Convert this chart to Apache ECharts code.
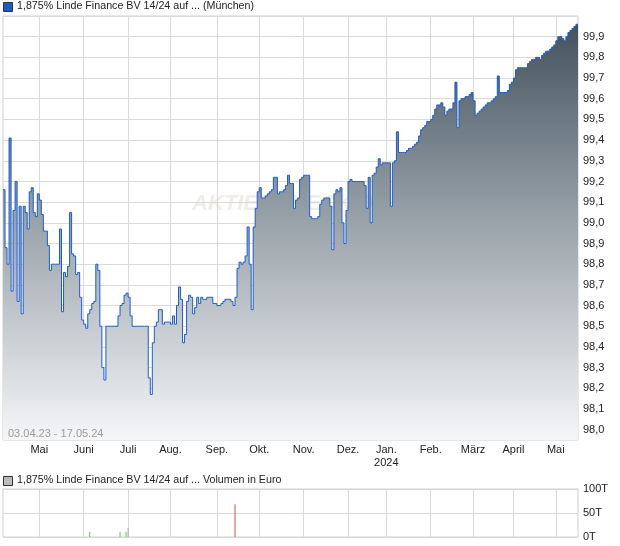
<!DOCTYPE html>
<html><head><meta charset="utf-8">
<script src="https://cdn.jsdelivr.net/npm/echarts@6/dist/echarts.min.js"></script>
<style>html,body{margin:0;padding:0;background:#fff}#c{width:620px;height:546px}</style>
</head><body><div id="c"></div>
<script>
// ---- DATA ----
const monthKeys = ['2023-04','2023-05','2023-06','2023-07','2023-08','2023-09','2023-10','2023-11','2023-12','2024-01','2024-02','2024-03','2024-04','2024-05'];
const monthLabels = ['', 'Mai', 'Juni', 'Juli', 'Aug.', 'Sep.', 'Okt.', 'Nov.', 'Dez.', 'Jan.\n2024', 'Feb.', 'März', 'April', 'Mai'];

const apr23 = [99.16, 98.88, 98.80, 99.41, 98.67, 99.06, 99.20, 98.62, 99.08, 98.56, 99.08, 99.05, 98.97, 99.15, 99.17, 99.05, 99.03, 99.14];
const may23 = [99.11, 99.04, 98.96, 98.96, 98.89, 98.77, 98.80, 98.80, 98.80, 98.80, 98.97, 98.57, 98.76, 98.74, 98.79, 99.05, 98.85, 98.84, 98.75, 98.76, 98.64, 98.53];
const jun23 = [98.51, 98.49, 98.56, 98.58, 98.61, 98.62, 98.80, 98.77, 98.50, 98.30, 98.24, 98.50, 98.50, 98.50, 98.50, 98.50, 98.50, 98.55, 98.60, 98.61, 98.65, 98.66];
const jul23 = [98.64, 98.55, 98.50, 98.50, 98.50, 98.50, 98.50, 98.50, 98.50, 98.50, 98.25, 98.17, 98.42, 98.50, 98.52, 98.58, 98.58, 98.51, 98.52, 98.52, 98.52];
const aug23 = [98.51, 98.55, 98.51, 98.60, 98.69, 98.63, 98.42, 98.46, 98.62, 98.65, 98.64, 98.56, 98.59, 98.64, 98.61, 98.64, 98.63, 98.63, 98.64, 98.64, 98.64, 98.61, 98.61];
const sep23 = [98.60, 98.60, 98.61, 98.62, 98.63, 98.63, 98.63, 98.62, 98.60, 98.64, 98.78, 98.81, 98.80, 98.81, 98.84, 98.98, 98.80, 98.58, 98.98, 99.07, 99.15];
const oct23 = [99.17, 99.12, 99.12, 99.13, 99.14, 99.15, 99.16, 99.22, 99.22, 99.14, 99.15, 99.15, 99.16, 99.18, 99.23, 99.19, 99.19, 99.07, 99.11, 99.12, 99.21, 99.22];
const nov23 = [99.23, 99.23, 99.23, 99.03, 99.02, 99.02, 99.02, 99.03, 99.09, 99.11, 99.12, 99.12, 99.12, 99.08, 98.87, 99.14, 99.16, 99.15, 99.17, 99.00, 98.90, 99.06];
const dec23 = [99.20, 99.21, 99.20, 99.20, 99.20, 99.20, 99.20, 99.20, 99.18, 99.07, 99.22, 99.00, 99.23, 99.24, 99.27, 99.31, 99.28, 99.29, 99.29];
const jan24 = [99.29, 99.29, 99.08, 99.29, 99.30, 99.44, 99.34, 99.34, 99.34, 99.34, 99.35, 99.36, 99.36, 99.37, 99.38, 99.39, 99.42, 99.45, 99.46, 99.47, 99.49, 99.49];
const feb24 = [99.50, 99.52, 99.55, 99.57, 99.57, 99.58, 99.56, 99.52, 99.54, 99.55, 99.55, 99.58, 99.68, 99.46, 99.59, 99.60, 99.60, 99.61, 99.61, 99.62, 99.63];
const mar24 = [99.59, 99.52, 99.53, 99.54, 99.55, 99.56, 99.57, 99.58, 99.58, 99.59, 99.60, 99.61, 99.71, 99.63, 99.63, 99.63, 99.63, 99.64, 99.67, 99.68];
const apr24 = [99.70, 99.74, 99.75, 99.75, 99.75, 99.75, 99.75, 99.77, 99.78, 99.79, 99.79, 99.80, 99.80, 99.79, 99.81, 99.82, 99.83, 99.83, 99.84, 99.85, 99.86];
const may24 = [99.88, 99.90, 99.90, 99.89, 99.88, 99.90, 99.92, 99.93, 99.94, 99.95, 99.96, 99.96];

// volume (Euro) on trading-day index
const volIndex = [43, 58, 61, 62, 115];
const volValues = [10500, 11000, 11000, 19000, 68000];
const volDirection = ['up', 'up', 'up', 'flat', 'down'];

const priceTitle = '1,875% Linde Finance BV 14/24 auf ... (München)';
const volumeTitle = '1,875% Linde Finance BV 14/24 auf ... Volumen in Euro';
const rangeText = '03.04.23 - 17.05.24';
const watermark = 'AKTIENCHECK.DE';

// ---- BUILD ----
const monthValues = [apr23, may23, jun23, jul23, aug23, sep23, oct23, nov23, dec23, jan24, feb24, mar24, apr24, may24];
const categories = [];
const prices = [];
monthValues.forEach((arr, m) => arr.forEach((v, j) => { categories.push(monthKeys[m] + '|' + j); prices.push(v); }));
const volumes = categories.map(() => null);
const dirColor = { up: '#3fd83f', down: '#c9505a', flat: '#aaaaaa' };
volIndex.forEach((idx, k) => { volumes[idx] = { value: volValues[k], itemStyle: { color: dirColor[volDirection[k]] } }; });

const isMonthStart = (idx, val) => val.endsWith('|0') && !val.startsWith(monthKeys[0]);
const monthLabel = (val) => { const m = monthKeys.indexOf(val.split('|')[0]); return monthLabels[m]; };

const FONT = '"Liberation Sans", Arial, sans-serif';
const gridColor = '#dadada';

const chart = echarts.init(document.getElementById('c'), null, { renderer: 'canvas' });
chart.setOption({
  animation: false,
  textStyle: { fontFamily: FONT },
  grid: [
    { left: 3, right: 42, top: 16, bottom: 106, show: true, borderColor: '#cfcfcf', borderWidth: 1, backgroundColor: 'transparent' },
    { left: 3, right: 42, top: 16, bottom: 116.3, show: false },
    { left: 3, right: 42, top: 489, bottom: 9, show: true, borderColor: '#cfcfcf', borderWidth: 1 }
  ],
  xAxis: [
    { gridIndex: 0, type: 'category', data: categories, boundaryGap: false,
      axisLine: { show: false }, axisTick: { show: false },
      axisLabel: { interval: isMonthStart, formatter: monthLabel, color: '#222', fontSize: 11, margin: 3, lineHeight: 13, fontFamily: FONT },
      splitLine: { show: true, interval: isMonthStart, lineStyle: { color: gridColor, width: 1 } } },
    { gridIndex: 1, type: 'category', data: categories, boundaryGap: false, show: false },
    { gridIndex: 2, type: 'category', data: categories, boundaryGap: false,
      axisLine: { show: false }, axisTick: { show: false }, axisLabel: { show: false },
      splitLine: { show: true, interval: isMonthStart, lineStyle: { color: gridColor, width: 1 } } }
  ],
  yAxis: [
    { gridIndex: 0, type: 'value', min: 97.95, max: 100, show: false, splitLine: { show: false } },
    { gridIndex: 1, type: 'value', min: 98, max: 100, interval: 0.1, position: 'right',
      axisLine: { show: false }, axisTick: { show: false },
      axisLabel: { color: '#222', fontSize: 11, margin: 5, fontFamily: FONT,
        formatter: v => v > 99.95 ? '' : v.toFixed(1).replace('.', ',') },
      splitLine: { show: true, lineStyle: { color: gridColor, width: 1 } } },
    { gridIndex: 2, type: 'value', min: 0, max: 100000, interval: 50000, position: 'right',
      axisLine: { show: false }, axisTick: { show: false },
      axisLabel: { color: '#222', fontSize: 11, margin: 5, fontFamily: FONT, formatter: v => (v / 1000) + 'T' },
      splitLine: { show: true, lineStyle: { color: gridColor, width: 1 } } }
  ],
  series: [
    { type: 'line', xAxisIndex: 0, yAxisIndex: 0, data: prices, step: 'end', symbol: 'none', z: 3,
      lineStyle: { color: '#1d5cc8', width: 1 },
      areaStyle: { opacity: 1, color: new echarts.graphic.LinearGradient(0, 0, 0, 1, [
        { offset: 0, color: '#43525e' }, { offset: 0.5, color: '#9ea7ae' }, { offset: 1, color: '#f5f6f8' } ]) } },
    { type: 'bar', xAxisIndex: 2, yAxisIndex: 2, data: volumes, barWidth: 1, barMinWidth: 1 }
  ],
  graphic: [
    { type: 'text', left: 192, top: 193, z: 1, style: { text: watermark, font: 'italic bold 22px ' + FONT, fill: 'rgba(222,214,200,0.45)' } },
    { type: 'rect', left: 3, top: 2, z: 10, shape: { width: 9, height: 9 }, style: { fill: '#1d5cc8', stroke: '#333', lineWidth: 1 } },
    { type: 'text', left: 17, top: 1, z: 10, style: { text: priceTitle, font: '10.7px ' + FONT, fill: '#222' } },
    { type: 'rect', left: 3, top: 476, z: 10, shape: { width: 9, height: 9 }, style: { fill: '#bbbbbb', stroke: '#333', lineWidth: 1 } },
    { type: 'text', left: 17, top: 475, z: 10, style: { text: volumeTitle, font: '10.7px ' + FONT, fill: '#222' } },
    { type: 'text', left: 8, top: 428, z: 10, style: { text: rangeText, font: '11px ' + FONT, fill: '#a09a94' } }
  ]
});
</script>
</body></html>
